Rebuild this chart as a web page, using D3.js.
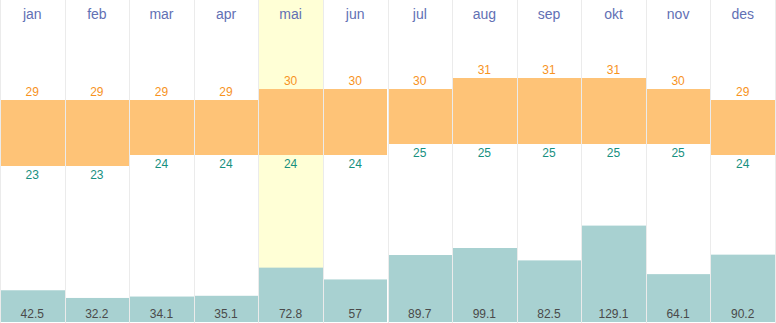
<!DOCTYPE html>
<html>
<head>
<meta charset="utf-8">
<script src="https://cdn.jsdelivr.net/npm/d3@7"></script>
<style>
  html, body { margin: 0; padding: 0; background: #fff; }
  svg { display: block; font-family: "Liberation Sans", Arial, sans-serif; }
</style>
</head>
<body>
<svg id="chart" width="776" height="323"></svg>
<script>
// Monthly climate: daily high / low temperature (°C) and precipitation (mm)
const months = ["jan", "feb", "mar", "apr", "mai", "jun", "jul", "aug", "sep", "okt", "nov", "des"];
const tempHigh = [29, 29, 29, 29, 30, 30, 30, 31, 31, 31, 30, 29];
const tempLow = [23, 23, 24, 24, 24, 24, 25, 25, 25, 25, 25, 24];
const precip = [42.5, 32.2, 34.1, 35.1, 72.8, 57, 89.7, 99.1, 82.5, 129.1, 64.1, 90.2];
const highlightMonth = "mai";

const W = 775, H = 323;
const svg = d3.select("#chart");

const x = d3.scaleBand().domain(months).range([0, W]).paddingInner(0).paddingOuter(0);
const colX = d => Math.round(x(d));
const colW = d => Math.round(x(d) + x.bandwidth()) - Math.round(x(d));

// temperature band: 11 px per degree
const yT = d3.scaleLinear().domain([23, 31]).range([166, 78]);
// precipitation bars grow up from the bottom edge
const yP = d3.scaleLinear().domain([0, 129.1]).range([322, 225.6]);

// highlighted month column
svg.append("rect")
  .attr("x", colX(highlightMonth) + 1)
  .attr("y", 0)
  .attr("width", colW(highlightMonth) - 1)
  .attr("height", 322)
  .attr("fill", "#ffffd6");

// vertical separators between months, plus outer edges
svg.append("g")
  .selectAll("line")
  .data(months.map(colX).concat([W]))
  .join("line")
  .attr("x1", d => d + 0.5)
  .attr("x2", d => d + 0.5)
  .attr("y1", 0)
  .attr("y2", H)
  .attr("stroke", "#ebebeb");

// month names
svg.append("g")
  .selectAll("text")
  .data(months)
  .join("text")
  .attr("x", d => x(d) + x.bandwidth() / 2)
  .attr("y", 19)
  .attr("text-anchor", "middle")
  .attr("font-size", 14)
  .attr("fill", "#6270b4")
  .text(d => d);

// temperature range bars
svg.append("g")
  .selectAll("rect")
  .data(months)
  .join("rect")
  .attr("x", d => colX(d) + 1)
  .attr("y", (d, i) => yT(tempHigh[i]))
  .attr("width", d => colW(d) - 1)
  .attr("height", (d, i) => yT(tempLow[i]) - yT(tempHigh[i]))
  .attr("fill", "#fec377");

svg.append("g")
  .selectAll("text")
  .data(months)
  .join("text")
  .attr("x", d => x(d) + x.bandwidth() / 2)
  .attr("y", (d, i) => yT(tempHigh[i]) - 4)
  .attr("text-anchor", "middle")
  .attr("font-size", 12)
  .attr("fill", "#f7931e")
  .text((d, i) => tempHigh[i]);

svg.append("g")
  .selectAll("text")
  .data(months)
  .join("text")
  .attr("x", d => x(d) + x.bandwidth() / 2)
  .attr("y", (d, i) => yT(tempLow[i]) + 13)
  .attr("text-anchor", "middle")
  .attr("font-size", 12)
  .attr("fill", "#17907f")
  .text((d, i) => tempLow[i]);

// precipitation bars
svg.append("g")
  .selectAll("rect")
  .data(months)
  .join("rect")
  .attr("x", d => colX(d) + 1)
  .attr("y", (d, i) => yP(precip[i]))
  .attr("width", d => colW(d) - 1)
  .attr("height", (d, i) => yP(0) - yP(precip[i]))
  .attr("fill", "#a8d1d1");

svg.append("g")
  .selectAll("text")
  .data(months)
  .join("text")
  .attr("x", d => x(d) + x.bandwidth() / 2)
  .attr("y", 318)
  .attr("text-anchor", "middle")
  .attr("font-size", 12)
  .attr("fill", "#4a4a4a")
  .text((d, i) => precip[i]);
</script>
</body>
</html>
